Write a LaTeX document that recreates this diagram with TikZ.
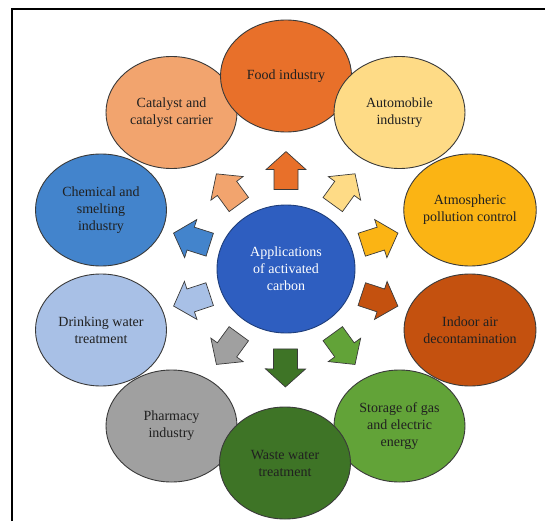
\documentclass[tikz,border=0pt]{standalone}
\usepackage{fontspec}
\setmainfont{Liberation Serif}
\usetikzlibrary{shapes.geometric,calc}

\definecolor{outline}{HTML}{3A3A3A}
\definecolor{txt}{HTML}{202020}
\definecolor{cFood}{HTML}{E8702A}
\definecolor{cCat}{HTML}{F2A46E}
\definecolor{cAuto}{HTML}{FEDB86}
\definecolor{cAtmo}{HTML}{FBB414}
\definecolor{cIndoor}{HTML}{C4510F}
\definecolor{cStore}{HTML}{62A338}
\definecolor{cWaste}{HTML}{3E7426}
\definecolor{cPharm}{HTML}{A0A0A0}
\definecolor{cDrink}{HTML}{A8C0E6}
\definecolor{cChem}{HTML}{4384CC}
\definecolor{cCenter}{HTML}{2E5EC0}
\definecolor{cCenterLine}{HTML}{1F3E7A}

\begin{document}
\begin{tikzpicture}[x=1pt,y=-1pt,
  bubble/.style={ellipse, draw=outline, line width=0.9pt,
    minimum width=131pt, minimum height=112pt, inner sep=0pt,
    align=center, text=txt, font=\fontsize{14}{17}\selectfont},
  hub/.style={bubble, draw=cCenterLine, fill=cCenter, text=white,
    minimum width=138pt, minimum height=128pt},
  blockarrow/.style={draw=outline, line width=0.7pt, line join=miter},
  framerule/.style={line width=2pt, black}]

\useasboundingbox (0,0) rectangle (545,521);

% frame
\coordinate (fl) at (12,521);
\coordinate (fc) at (12,9);
\coordinate (fr) at (545,9);
\draw[framerule] (fl) -- (fc) -- (fr);

% application bubbles
\node[bubble, fill=cChem]   (chem)    at (101,210)   {Chemical and\\smelting\\industry};
\node[bubble, fill=cCat]    (cat)     at (171.5,112.5) {Catalyst and\\catalyst carrier};
\node[bubble, fill=cFood]   (food)    at (286,76)    {Food industry};
\node[bubble, fill=cAuto]   (automobile) at (399.5,112.5) {Automobile\\industry};
\node[bubble, fill=cAtmo]   (atmo)    at (470,210)   {Atmospheric\\pollution control};
\node[bubble, fill=cIndoor] (indoor)  at (470,330)   {Indoor air\\decontamination};
\node[bubble, fill=cDrink]  (drink)   at (101,330)   {Drinking water\\treatment};
\node[bubble, fill=cPharm]  (pharm)   at (171.5,426) {Pharmacy\\industry};
\node[bubble, fill=cStore]  (store)   at (399.5,426) {Storage of gas\\and electric\\energy};
\node[bubble, fill=cWaste]  (waste)   at (285,463)   {Waste water\\treatment};

% central bubble
\node[hub] (ctr) at (286,269) {Applications\\of activated\\carbon};

% block arrows from the hub towards each bubble
\foreach \t/\c in {food/cFood, automobile/cAuto, atmo/cAtmo, indoor/cIndoor,
                   store/cStore, waste/cWaste, pharm/cPharm, drink/cDrink,
                   chem/cChem, cat/cCat}{
  \pgfmathanglebetweenpoints{\pgfpointanchor{ctr}{center}}{\pgfpointanchor{\t}{center}}
  \let\ang\pgfmathresult
  \begin{scope}[shift={($(ctr)!0.51!(\t)$)}, rotate=\ang]
    \draw[blockarrow, fill=\c] (-19pt,-12pt) -- (1pt,-12pt) -- (1pt,-20pt)
      -- (19pt,0pt) -- (1pt,20pt) -- (1pt,12pt) -- (-19pt,12pt) -- cycle;
  \end{scope}
}
\end{tikzpicture}
\end{document}
